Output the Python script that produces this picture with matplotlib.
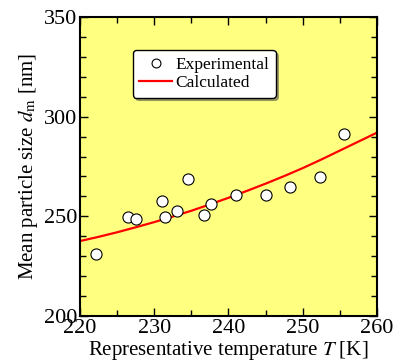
import matplotlib
matplotlib.use("Agg")
import matplotlib.pyplot as plt
from matplotlib.ticker import MultipleLocator

plt.rcParams['font.family'] = ['Liberation Serif', 'DejaVu Serif']
plt.rcParams['mathtext.fontset'] = 'stix'

# experimental data
T_exp = [222.2, 226.4, 227.5, 231.1, 231.4, 233.1, 234.5, 236.7, 237.7, 241.0, 245.0, 248.3, 252.3, 255.5]
d_exp = [231.1, 249.8, 248.6, 257.7, 249.8, 252.8, 268.6, 250.8, 256.0, 260.9, 260.9, 264.7, 269.7, 291.5]

# calculated curve
T_calc = [220, 222.5, 225, 227.5, 230, 232.5, 235, 237.5, 240, 242.5, 245, 247.5, 250, 252.5, 255, 257.5, 260]
d_calc = [237.6, 239.7, 242.0, 244.5, 247.1, 249.9, 252.8, 256.0, 259.3, 262.8, 266.4, 270.2, 274.2, 278.5, 283.0, 287.5, 292.0]

fig = plt.figure(figsize=(4.04, 3.64), dpi=100)
ax = fig.add_axes([0.198, 0.132, 0.735, 0.821])
ax.set_facecolor('#ffff80')

ax.plot(T_calc, d_calc, color='red', lw=1.6, label='Calculated', zorder=2)
ax.plot(T_exp, d_exp, 'o', ms=8, mfc='white', mec='black', mew=0.8,
        label='Experimental', zorder=3)

ax.set_xlim(220, 260)
ax.set_ylim(200, 350)
ax.xaxis.set_major_locator(MultipleLocator(10))
ax.xaxis.set_minor_locator(MultipleLocator(5))
ax.yaxis.set_major_locator(MultipleLocator(50))
ax.yaxis.set_minor_locator(MultipleLocator(10))
ax.tick_params(which='both', direction='in', top=True, right=True, labelsize=16)
ax.tick_params(which='major', length=6, width=1, pad=2)
ax.tick_params(which='minor', length=4, width=1)
for s in ax.spines.values():
    s.set_linewidth(1.5)

ax.set_xlabel('Representative temperature $T$ [K]', fontsize=15, labelpad=1)
ax.set_ylabel('Mean particle size $d_\\mathrm{m}$ [nm]', fontsize=15, labelpad=3)

handles, labels = ax.get_legend_handles_labels()
leg = ax.legend(handles[::-1], labels[::-1], loc='upper left',
                bbox_to_anchor=(0.178, 0.89), borderaxespad=0,
                fontsize=12.5, shadow=True, markerscale=0.8,
                fancybox=True, framealpha=1, edgecolor='black',
                handlelength=1.85, borderpad=0.38, labelspacing=0.12,
                handletextpad=0.2)
leg.get_frame().set_linewidth(1)

fig.savefig('out.png', dpi=100)
